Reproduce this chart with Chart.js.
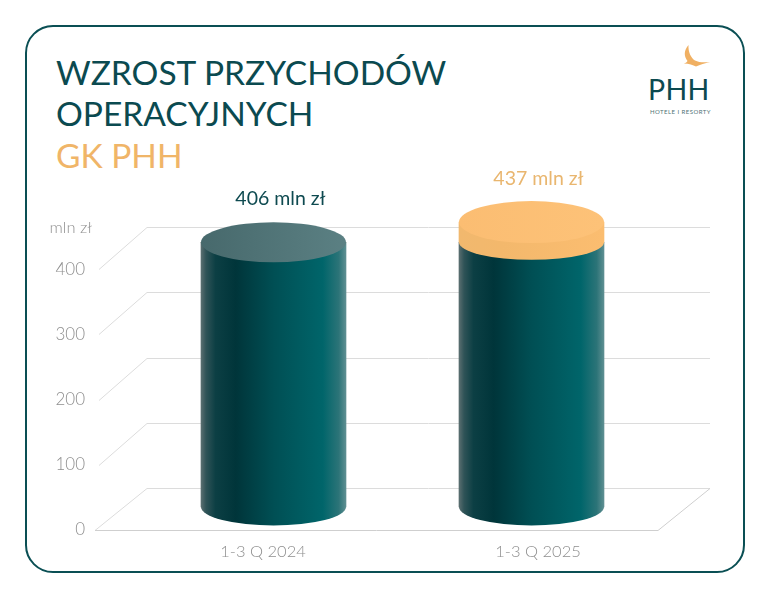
<!DOCTYPE html>
<html><head><meta charset="utf-8">
<script src="https://cdn.jsdelivr.net/npm/chart.js@4"></script>
<style>
html,body{margin:0;padding:0;background:#fff;width:768px;height:596px;overflow:hidden}
#frame{position:absolute;left:25px;top:25px;width:716px;height:544px;border:2px solid #0a4f54;border-radius:28px;box-sizing:content-box}
canvas{position:absolute;left:0;top:0}
.t{position:absolute;white-space:nowrap;font-family:"Lato",sans-serif;font-weight:400;line-height:1}
.phh{position:absolute;left:648px;top:75px;font:400 28.5px "Lato",sans-serif;color:#0c4a50;letter-spacing:.3px;line-height:1}
.sub{position:absolute;left:650px;top:109px;font:400 6px "Lato",sans-serif;color:#4f7275;letter-spacing:.45px;line-height:1;white-space:nowrap}
svg{position:absolute;left:0;top:0}
</style></head><body>
<div id="frame"></div>
<div class="t" style="left:56px;top:56px;font-size:33.5px;color:#0b4a50">WZROST PRZYCHODÓW</div>
<div class="t" style="left:56px;top:97px;font-size:33.5px;color:#0b4a50">OPERACYJNYCH</div>
<div class="t" style="left:56px;top:139px;font-size:33.5px;color:#f0b568">GK PHH</div>
<svg width="768" height="596"><path d="M688.5 45C684 50 683.5 56 687.5 61C686.5 62.5 685.5 63 684 63.5C689 63.5 693 65 696 66.5C700 65 705 63 710 62C704 62.5 699 62.5 695 60.5C691 58 688 52 688.5 45Z" fill="#f0b063"/></svg>
<div class="phh">PHH</div>
<div class="sub">HOTELE I RESORTY</div>
<canvas id="c" width="768" height="596" style="width:768px;height:596px"></canvas>
<script>
const categories=['1-3 Q 2024','1-3 Q 2025'];
const baseValues=[406,406];
const growthValues=[0,31];
const totals=[406,437];
const totalLabels=['406 mln zł','437 mln zł'];
const yTicks=[0,100,200,300,400];
const unitLabel='mln zł';

const BACK_DX=52, BACK_DY=42;
function sideGrad(c,x,w,stops){const g=c.createLinearGradient(x-w/2,0,x+w/2,0);stops.forEach(s=>g.addColorStop(s[0],s[1]));return g;}
const tealStops=[[0,'#5a6e70'],[0.035,'#2f5357'],[0.1,'#0c3f44'],[0.24,'#00353a'],[0.5,'#004f54'],[0.84,'#00656a'],[0.95,'#2c7478'],[1,'#5f8f92']];
const orangeStops=[[0,'#f1b86e'],[0.3,'#f3b86c'],[1,'#fbbd70']];
const topStops=[[0,'#47696c'],[1,'#5b8083']];
const orangeTop=[[0,'#fbbd72'],[1,'#fdc278']];
function barFill(ctx,stops,fallback){
  const px=ctx.chart.scales.x?ctx.chart.scales.x.getPixelForValue(ctx.dataIndex+1):NaN;
  return Number.isFinite(px)?sideGrad(ctx.chart.ctx,px,145,stops):fallback;
}

const scene={
 id:'scene',
 beforeDatasetsDraw(ch){
  const c=ch.ctx,y=ch.scales.y,L=ch.chartArea.left,R=ch.chartArea.right;
  c.save();c.lineWidth=1;
  const frontL=L-BACK_DX,frontR=R-BACK_DX;
  yTicks.forEach(v=>{
    const p=Math.round(y.getPixelForValue(v))+.5;
    c.strokeStyle='#dcdcdc';
    c.beginPath();c.moveTo(frontL+(v?4:0),p);c.lineTo(L,p-BACK_DY);c.lineTo(R,p-BACK_DY);c.stroke();
  });
  const p0=Math.round(y.getPixelForValue(0))+.5;
  c.strokeStyle='#cfcfcf';
  c.beginPath();c.moveTo(frontL,p0);c.lineTo(frontR,p0);c.lineTo(R,p0-BACK_DY);c.stroke();
  ch.getDatasetMeta(0).data.forEach(b=>{
    c.fillStyle=sideGrad(c,b.x,b.width,tealStops);
    c.beginPath();c.ellipse(b.x,b.base,b.width/2,18.5,0,0,Math.PI);c.fill();
  });
  c.restore();
 },
 afterDatasetsDraw(ch){
  const c=ch.ctx,m0=ch.getDatasetMeta(0).data,m1=ch.getDatasetMeta(1).data;
  c.save();
  m0.forEach((b,i)=>{
    const g=m1[i],hasGrowth=growthValues[i]>0,t=hasGrowth?g:b;
    if(hasGrowth){
      c.fillStyle=sideGrad(c,g.x,g.width,orangeStops);
      c.beginPath();
      c.moveTo(g.x-g.width/2,g.y);c.lineTo(g.x+g.width/2,g.y);
      c.lineTo(g.x+g.width/2,g.base);
      c.ellipse(g.x,g.base,g.width/2,17.5,0,0,Math.PI);
      c.closePath();c.fill();
    }
    c.fillStyle=sideGrad(c,t.x,t.width,hasGrowth?orangeTop:topStops);
    c.beginPath();c.ellipse(t.x,t.y,t.width/2,hasGrowth?21:20,0,0,Math.PI*2);c.fill();
    c.font='400 19.5px Lato, sans-serif';c.textAlign='center';c.textBaseline='middle';
    c.fillStyle=hasGrowth?'#e9b66f':'#0e4a50';
    c.fillText(totalLabels[i],t.x+7,t.y-43.5);
  });
  c.font='300 16.5px Lato, sans-serif';c.textAlign='right';c.textBaseline='middle';c.fillStyle='#8f8f8f';
  c.fillText(unitLabel,92,228);
  c.restore();
 }
};

new Chart(document.getElementById('c'),{
 type:'bar',
 data:{datasets:[
  {label:'base',xAxisID:'x',yAxisID:'yBar',stack:'a',barThickness:145,borderWidth:0,
   data:baseValues.map((v,i)=>({x:i+1,y:v})),
   backgroundColor:ctx=>barFill(ctx,tealStops,'#004c51')},
  {label:'growth',xAxisID:'x',yAxisID:'yBar',stack:'a',barThickness:145,borderWidth:0,
   data:growthValues.map((v,i)=>({x:i+1,y:v})),
   backgroundColor:ctx=>barFill(ctx,orangeStops,'#f3b86c')}
 ]},
 options:{
  responsive:false,animation:false,devicePixelRatio:1,
  layout:{padding:{top:204,right:58,left:0,bottom:0}},
  plugins:{legend:{display:false},title:{display:false},tooltip:{enabled:false}},
  scales:{
   x:{type:'linear',display:false,stacked:true,offset:false,min:0.5097,max:2.6919},
   xLabels:{type:'linear',position:'bottom',offset:false,min:0.5782,max:2.6254,
     grid:{display:false},border:{display:false},
     afterBuildTicks:a=>{a.ticks=categories.map((_,i)=>({value:i+1}));},
     afterFit:s=>{s.height=66;s.paddingLeft=0;s.paddingRight=0;},
     ticks:{callback:v=>categories[v-1],autoSkip:false,maxRotation:0,padding:4,color:'#8f8f8f',font:{family:'Lato',size:16.5,weight:'300'}}},
   y:{type:'linear',position:'left',min:0,max:500,
     grid:{display:false,drawTicks:false},border:{display:false},
     afterBuildTicks:a=>{a.ticks=yTicks.map(v=>({value:v}));},
     afterFit:s=>{s.width=147;s.paddingTop=0;s.paddingBottom=0;},
     ticks:{padding:62,color:'#8f8f8f',font:{family:'Lato',size:17,weight:'300'}}},
   yBar:{type:'linear',display:false,stacked:true,min:-35.3,max:464.7}
  }
 },
 plugins:[scene]
});
</script>
</body></html>
